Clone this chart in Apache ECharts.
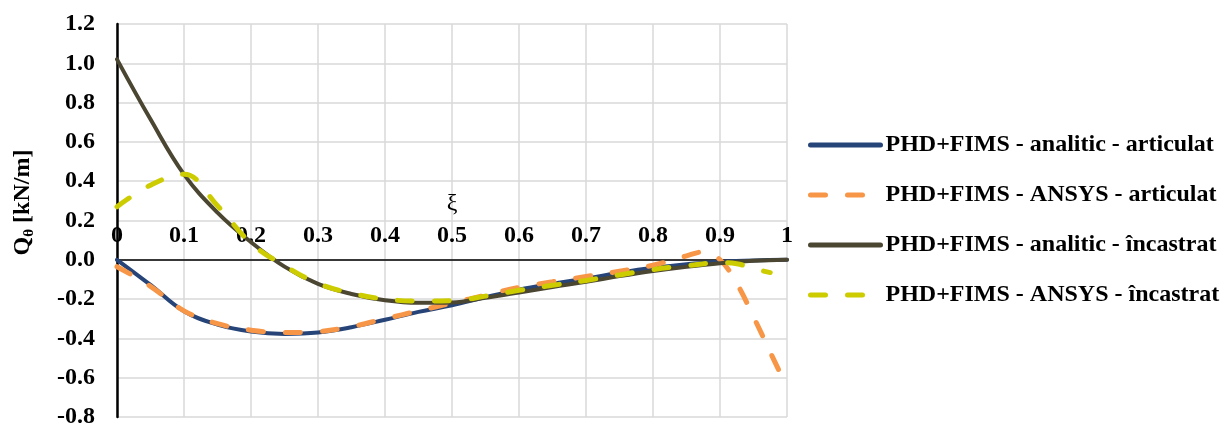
<!DOCTYPE html>
<html><head><meta charset="utf-8">
<script src="https://cdn.jsdelivr.net/npm/echarts@6/dist/echarts.min.js"></script>
<style>html,body{margin:0;padding:0;background:#fff}#c{width:1227px;height:426px}</style>
</head><body><div id="c"></div>
<script>
// ξ positions of the analytic curves
const XI = [0, 0.05, 0.1, 0.15, 0.2, 0.25, 0.3, 0.35, 0.4, 0.45, 0.5, 0.55, 0.6, 0.65, 0.7, 0.75, 0.8, 0.85, 0.9, 0.95, 1.0];
const ANALITIC_ARTICULAT = [0, -0.128, -0.262, -0.33, -0.365, -0.377, -0.37, -0.343, -0.305, -0.265, -0.232, -0.19, -0.152, -0.122, -0.095, -0.066, -0.041, -0.022, -0.01, -0.003, 0];
const ANALITIC_INCASTRAT = [1.02, 0.715, 0.435, 0.24, 0.09, -0.035, -0.123, -0.174, -0.206, -0.219, -0.217, -0.193, -0.166, -0.138, -0.112, -0.083, -0.057, -0.035, -0.017, -0.005, 0];
// ANSYS curves
const XI_ANSYS_ART = [0, 0.05, 0.1, 0.15, 0.2, 0.25, 0.3, 0.35, 0.4, 0.45, 0.5, 0.55, 0.6, 0.65, 0.7, 0.75, 0.8, 0.85, 0.875, 0.9, 0.925, 0.95, 0.975, 1.0];
const ANSYS_ARTICULAT = [-0.035, -0.135, -0.26, -0.325, -0.358, -0.37, -0.365, -0.34, -0.3, -0.26, -0.22, -0.18, -0.14, -0.112, -0.085, -0.058, -0.028, 0.02, 0.04, 0.0, -0.12, -0.29, -0.47, -0.65];
const XI_ANSYS_INC = [0, 0.05, 0.1, 0.15, 0.2, 0.25, 0.3, 0.35, 0.4, 0.45, 0.5, 0.55, 0.6, 0.65, 0.7, 0.75, 0.8, 0.85, 0.9, 0.925, 0.95, 0.975];
const ANSYS_INCASTRAT = [0.27, 0.38, 0.435, 0.275, 0.085, -0.03, -0.12, -0.17, -0.2, -0.21, -0.208, -0.185, -0.155, -0.13, -0.105, -0.077, -0.05, -0.03, -0.015, -0.02, -0.045, -0.065];
const NAMES = ['PHD+FIMS - analitic - articulat', 'PHD+FIMS - ANSYS - articulat', 'PHD+FIMS - analitic - încastrat', 'PHD+FIMS - ANSYS - încastrat'];
const COLORS = ['#264478', '#F79646', '#4A4632', '#CCCC00'];
const Y_MIN = -0.8, Y_MAX = 1.2;

const pair = (xs, ys) => xs.map((x, i) => [x, ys[i]]);
const FONT = '"Liberation Serif","Times New Roman",serif';
const solid = c => ({ color: c, width: 4, cap: 'round' });
const dashed = c => ({ color: c, width: 5, type: [15, 22], cap: 'round' });

const GRID = { left: 117, top: 24, right: 440, bottom: 9 };
const plotH = 426 - GRID.top - GRID.bottom;
// shift the x axis (line, labels, name) up to the y = 0 level
const zeroOffset = -plotH * (0 - Y_MIN) / (Y_MAX - Y_MIN);

const chart = echarts.init(document.getElementById('c'), null, { renderer: 'canvas' });
chart.setOption({
  animation: false,
  backgroundColor: '#fff',
  grid: Object.assign({ outerBoundsMode: 'none', containLabel: false }, GRID),
  xAxis: {
    type: 'value', min: 0, max: 1, interval: 0.1, position: 'bottom', offset: zeroOffset,
    name: 'ξ', nameLocation: 'middle', nameGap: -68,
    nameTextStyle: { fontFamily: FONT, fontSize: 24, color: '#000' },
    axisLine: { onZero: false, lineStyle: { color: '#000', width: 1.5 } },
    axisTick: { show: false },
    axisLabel: { inside: true, margin: 12, fontFamily: FONT, fontWeight: 'bold', fontSize: 24, color: '#000',
      formatter: v => (v === 0 ? '0' : (Math.abs(v - 1) < 1e-9 ? '1' : v.toFixed(1))) },
    splitLine: { show: true, lineStyle: { color: '#d9d9d9', width: 1.5 } }
  },
  yAxis: {
    type: 'value', min: Y_MIN, max: Y_MAX, interval: 0.2,
    name: '{a|Q}{b|θ}{a| [kN/m]}', nameLocation: 'middle', nameGap: 80,
    nameTextStyle: { fontFamily: FONT, color: '#000', padding: [0, 0, 0, 36],
      rich: { a: { fontFamily: FONT, fontSize: 24, fontWeight: 'bold', color: '#000', lineHeight: 28 },
              b: { fontFamily: FONT, fontSize: 15, fontWeight: 'bold', color: '#000', verticalAlign: 'bottom', lineHeight: 20 } } },
    axisLine: { show: true, onZero: false, lineStyle: { color: '#000', width: 2.5 } },
    axisTick: { show: false },
    axisLabel: { margin: 22, fontFamily: FONT, fontWeight: 'bold', fontSize: 24, color: '#000',
      formatter: v => v.toFixed(1) },
    splitLine: { show: true, lineStyle: { color: '#d9d9d9', width: 1.5 } }
  },
  legend: {
    orient: 'vertical', left: 803, top: 128, itemWidth: 70, itemHeight: 24, itemGap: 26,
    itemStyle: { opacity: 0, color: 'transparent', borderWidth: 0 },
    lineStyle: { width: 5, cap: 'round' },
    textStyle: { fontFamily: FONT, fontWeight: 'bold', fontSize: 24, lineHeight: 24, color: '#000' },
    data: NAMES
  },
  series: [
    { type: 'line', name: NAMES[0], data: pair(XI, ANALITIC_ARTICULAT), symbol: 'none', smooth: 0.4, color: COLORS[0], lineStyle: solid(COLORS[0]) },
    { type: 'line', name: NAMES[1], data: pair(XI_ANSYS_ART, ANSYS_ARTICULAT), symbol: 'none', smooth: 0.4, color: COLORS[1], lineStyle: dashed(COLORS[1]) },
    { type: 'line', name: NAMES[2], data: pair(XI, ANALITIC_INCASTRAT), symbol: 'none', smooth: 0.4, color: COLORS[2], lineStyle: solid(COLORS[2]) },
    { type: 'line', name: NAMES[3], data: pair(XI_ANSYS_INC, ANSYS_INCASTRAT), symbol: 'none', smooth: 0.4, color: COLORS[3], lineStyle: dashed(COLORS[3]) }
  ]
});
</script></body></html>
